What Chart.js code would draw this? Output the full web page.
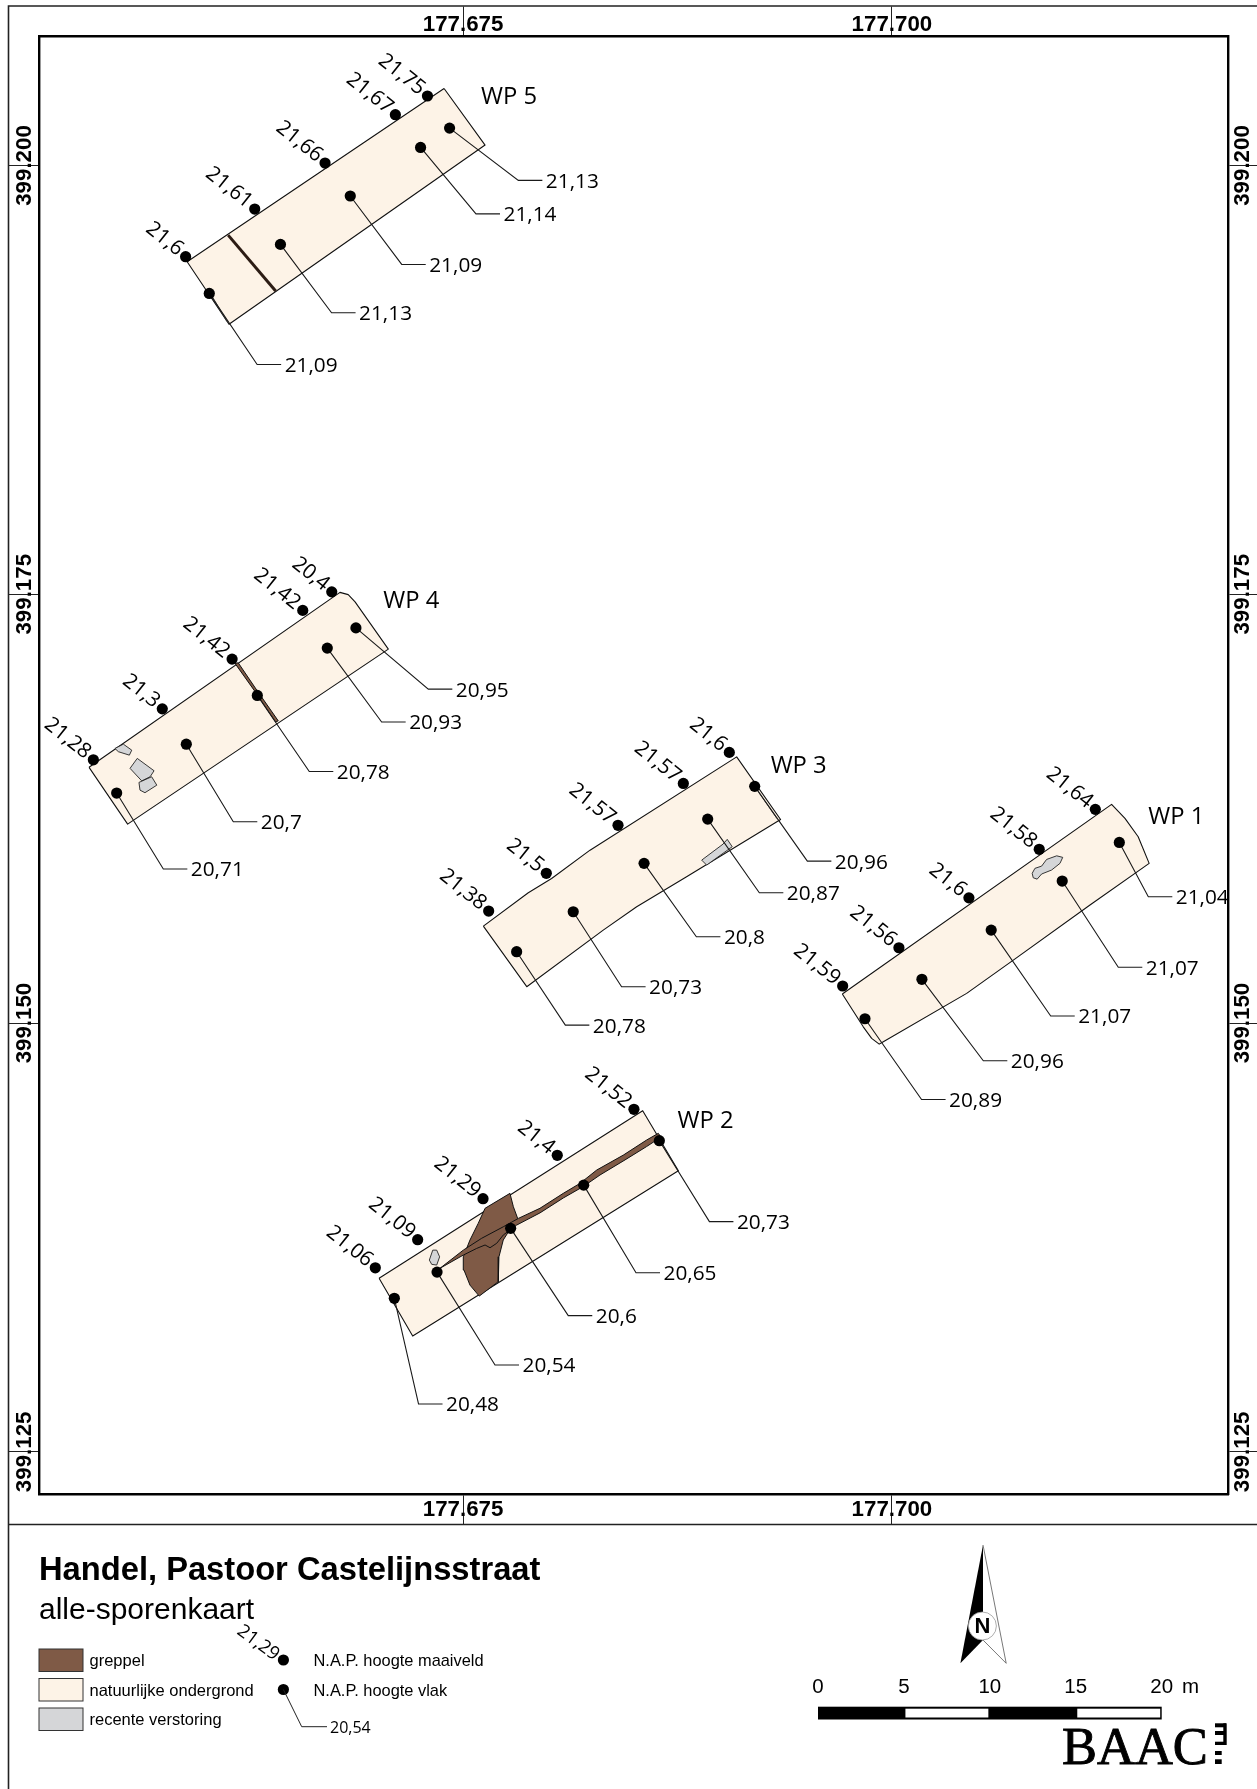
<!DOCTYPE html>
<html><head><meta charset="utf-8">
<style>html,body{margin:0;padding:0;background:#fff}#w{width:1257px;height:1789px;position:relative}canvas{display:block}</style>
<script src="https://cdn.jsdelivr.net/npm/chart.js@4"></script>
</head><body><div id="w"><canvas id="c" width="1257" height="1789"></canvas></div>
<script>
// Map ticks (RD coordinates, metres)
const xTickValues=[177675,177700];
const xTickLabels=["177.675","177.700"];
const yTickValues=[399125,399150,399175,399200];
const yTickLabels=["399.125","399.150","399.175","399.200"];
const xRange=[177650.26,177719.62];
const yRange=[399122.53,399207.52];

// Ground level points (N.A.P. hoogte maaiveld)
const maaiveldEast=[177658.82,177662.85,177666.95,177671.05,177672.92, 177653.44,177657.46,177661.53,177665.65,177667.34, 177676.49,177679.85,177684.03,177687.84,177690.52, 177697.13,177700.41,177704.49,177708.59,177711.86, 177669.88,177672.35,177676.16,177680.49,177684.96];
const maaiveldNorth=[399194.68,399197.46,399200.14,399202.96,399204.05, 399165.35,399168.32,399171.22,399174.06,399175.14, 399156.53,399158.73,399161.53,399163.97,399165.78, 399152.16,399154.39,399157.30,399160.13,399162.46, 399135.73,399137.37,399139.76,399142.29,399144.97];
const maaiveldValues=["21,6","21,61","21,66","21,67","21,75", "21,28","21,3","21,42","21,42","20,4", "21,38","21,5","21,57","21,57","21,6", "21,59","21,56","21,6","21,58","21,64", "21,06","21,09","21,29","21,4","21,52"];

// Trench-level points (N.A.P. hoogte vlak)
const vlakEast=[177660.20,177664.35,177668.42,177672.52,177674.21, 177654.80,177658.86,177663.00,177667.08,177668.75, 177678.12,177681.42,177685.55,177689.26,177692.00, 177698.43,177701.75,177705.79,177709.93,177713.26, 177670.99,177673.48,177677.77,177682.03,177686.44];
const vlakNorth=[399192.54,399195.40,399198.22,399201.05,399202.18, 399163.41,399166.26,399169.10,399171.86,399173.04, 399154.16,399156.49,399159.31,399161.89,399163.80, 399150.25,399152.55,399155.42,399158.28,399160.53, 399133.95,399135.48,399138.03,399140.55,399143.14];
const vlakValues=["21,09","21,13","21,09","21,14","21,13", "20,71","20,7","20,78","20,93","20,95", "20,78","20,73","20,8","20,87","20,96", "20,89","20,96","21,07","21,07","21,04", "20,48","20,54","20,6","20,65","20,73"];
const elbowEast=[177662.99,177667.33,177671.42,177675.75,177678.22, 177657.52,177661.60,177666.03,177670.25,177672.97, 177680.96,177684.24,177688.60,177692.27,177695.07, 177701.73,177705.33,177709.26,177713.20,177714.95, 177672.40,177676.86,177681.13,177685.08,177689.36];
const elbowNorth=[399188.40,399191.41,399194.23,399197.18,399199.13, 399158.98,399161.74,399164.67,399167.55,399169.47, 399149.88,399152.12,399155.03,399157.60,399159.44, 399145.54,399147.80,399150.41,399153.25,399157.36, 399127.79,399130.06,399132.94,399135.44,399138.42];

// Trenches (werkputten)
const wpNames=["WP 5","WP 4","WP 3","WP 1","WP 2"];
const wpEast=[177676.04,177670.35,177692.93,177714.95,177687.50];
const wpNorth=[399204.05,399174.66,399165.04,399162.08,399144.34];
const wp5Outline=[[177673.89,399204.49],[177676.28,399201.19],[177661.35,399190.74],[177658.91,399194.39]];
const wp4Outline=[[177653.19,399164.91],[177667.82,399175.11],[177668.30,399174.98],[177668.70,399174.56],[177670.64,399171.80],[177655.44,399161.60]];
const wp3Outline=[[177676.18,399155.65],[177678.80,399157.60],[177680.16,399158.43],[177682.40,399160.08],[177690.95,399165.52],[177693.51,399161.87],[177688.03,399158.53],[177685.12,399156.78],[177683.17,399155.42],[177678.71,399152.12]];
const wp1Outline=[[177697.11,399151.69],[177712.81,399162.75],[177713.59,399161.93],[177714.36,399160.86],[177715.00,399159.31],[177711.55,399156.88],[177707.08,399153.67],[177704.36,399151.73],[177699.50,399148.91],[177699.26,399148.77],[177698.82,399149.11],[177698.33,399149.78]];
const wp2Outline=[[177670.10,399135.12],[177685.47,399144.89],[177687.55,399141.39],[177672.06,399131.75]];

// Ditches (greppel)
const greppelWp5=[[177661.30,399195.94],[177664.07,399192.68]];
const greppelWp4=[[177661.70,399170.97],[177661.89,399171.00],[177662.97,399169.41],[177664.22,399167.62],[177664.07,399167.55],[177662.81,399169.41]];
const greppelWp2Wide=[[177676.28,399139.20],[177677.73,399140.07],[177677.93,399139.29],[177678.18,399138.61],[177677.77,399138.03],[177677.34,399137.35],[177677.09,399136.37],[177677.05,399134.92],[177675.94,399134.08],[177675.40,399134.72],[177675.05,399135.60],[177675.01,399136.37],[177675.40,399137.35],[177675.88,399138.32]];
const greppelWp2Long=[[177673.65,399135.70],[177675.01,399136.76],[177676.08,399137.45],[177677.34,399138.12],[177678.22,399138.61],[177679.48,399139.20],[177680.84,399140.07],[177681.81,399140.65],[177682.79,399141.43],[177684.34,399142.30],[177685.70,399143.18],[177686.38,399143.57],[177686.54,399143.35],[177685.70,399142.80],[177684.44,399142.02],[177682.98,399141.14],[177682.01,399140.47],[177680.84,399139.80],[177679.48,399138.93],[177678.12,399138.22],[177677.34,399137.64],[177676.96,399137.16],[177676.57,399136.90],[177676.28,399137.06],[177675.79,399136.86],[177675.01,399136.47]];

// Recent disturbance (recente verstoring)
const verstoringWp4a=[[177654.70,399166.01],[177655.19,399166.26],[177655.68,399165.91],[177655.54,399165.62],[177654.90,399165.82]];
const verstoringWp4b=[[177655.58,399164.85],[177656.00,399165.43],[177656.98,399164.71],[177656.75,399164.36],[177656.26,399164.12]];
const verstoringWp4c=[[177656.10,399164.03],[177656.84,399164.36],[177657.14,399163.87],[177656.45,399163.43],[177656.16,399163.58]];
const verstoringWp3=[[177688.91,399159.50],[177690.15,399160.43],[177690.40,399160.71],[177690.69,399160.28],[177689.20,399159.21]];
const verstoringWp1=[[177708.18,399158.73],[177708.34,399159.02],[177708.73,399159.15],[177709.02,399159.54],[177709.61,399159.75],[177709.96,399159.66],[177709.80,399159.31],[177709.31,399158.92],[177708.73,399158.69],[177708.47,399158.39],[177708.24,399158.47]];
const verstoringWp2=[[177673.03,399136.18],[177673.23,399136.76],[177673.46,399136.76],[177673.63,399136.37],[177673.46,399135.89],[177673.17,399135.93]];
const edgeStrips=[[[177660.33,399192.44],[177661.23,399190.90]],[[177692.21,399163.50],[177693.30,399161.92]]];

const legendLabels=["greppel","natuurlijke ondergrond","recente verstoring"];
const scaleLabels=["0","5","10","15","20"];

const BEIGE='#fdf3e7',BROWN='#7f5a46',GREY='#d5d6d8',INK='#111';
const ARIAL='"Liberation Sans",Arial,sans-serif',LABEL='"Open Sans",sans-serif';
const STUB_M=1.4;

const pts=a=>a.map(p=>({x:p[0],y:p[1]}));
function shape(a,fill,line,w,label){const d=pts(a);d.push(d[0]);
  return {type:'scatter',label,data:d,showLine:true,fill:'shape',backgroundColor:fill,borderColor:line,borderWidth:w,pointRadius:0,tension:0,borderJoinStyle:'round'};}
function lineSet(segs,color,w,label){const d=[];segs.forEach(s=>{s.forEach(p=>d.push({x:p[0],y:p[1]}));d.push({x:NaN,y:NaN});});
  return {type:'scatter',label,data:d,showLine:true,fill:false,borderColor:color,borderWidth:w,pointRadius:0,spanGaps:false};}
const leaders=vlakEast.map((e,i)=>[[e,vlakNorth[i]],[elbowEast[i],elbowNorth[i]],[elbowEast[i]+STUB_M,elbowNorth[i]]]);
const dots=(E,N,label)=>({type:'scatter',label,data:E.map((e,i)=>({x:e,y:N[i]})),showLine:false,pointRadius:5.6,pointHoverRadius:5.6,pointBackgroundColor:'#000',pointBorderWidth:0});

const datasets=[
  dots(maaiveldEast,maaiveldNorth,'N.A.P. hoogte maaiveld'),
  dots(vlakEast,vlakNorth,'N.A.P. hoogte vlak'),
  lineSet(leaders,'#1a1a1a',1.1,'leaders'),
  lineSet(edgeStrips,'#333',0.8,'edges'),
  shape(verstoringWp4a,GREY,'#222',0.9,'recente verstoring'),
  shape(verstoringWp4b,GREY,'#222',0.9,'recente verstoring'),
  shape(verstoringWp4c,GREY,'#222',0.9,'recente verstoring'),
  shape(verstoringWp3,GREY,'#222',0.9,'recente verstoring'),
  shape(verstoringWp1,GREY,'#222',0.9,'recente verstoring'),
  shape(verstoringWp2,GREY,'#222',0.9,'recente verstoring'),
  lineSet([greppelWp5],'#2c1c14',3,'greppel'),
  shape(greppelWp4,BROWN,'#111',1,'greppel'),
  shape(greppelWp2Long,BROWN,'#111',1,'greppel'),
  shape(greppelWp2Wide,BROWN,'#111',1,'greppel'),
  shape(wp5Outline,BEIGE,INK,1.1,'natuurlijke ondergrond'),
  shape(wp4Outline,BEIGE,INK,1.1,'natuurlijke ondergrond'),
  shape(wp3Outline,BEIGE,INK,1.1,'natuurlijke ondergrond'),
  shape(wp1Outline,BEIGE,INK,1.1,'natuurlijke ondergrond'),
  shape(wp2Outline,BEIGE,INK,1.1,'natuurlijke ondergrond')
];

const mapLabels={id:'mapLabels',afterDatasetsDraw(ch){
  const c=ch.ctx,X=ch.scales.x,Y=ch.scales.y;
  c.save();c.fillStyle='#000';
  c.font='20.8px '+LABEL;c.textBaseline='middle';c.textAlign='left';
  vlakValues.forEach((t,i)=>c.fillText(t,X.getPixelForValue(elbowEast[i]+STUB_M)+3.5,Y.getPixelForValue(elbowNorth[i])+1.5));
  maaiveldValues.forEach((t,i)=>{c.save();c.translate(X.getPixelForValue(maaiveldEast[i]),Y.getPixelForValue(maaiveldNorth[i]));c.rotate(38.5*Math.PI/180);c.textAlign='right';c.fillText(t,-7,-0.8);c.restore();});
  c.font='23.8px '+LABEL;c.textAlign='left';
  wpNames.forEach((t,i)=>c.fillText(t,X.getPixelForValue(wpEast[i]),Y.getPixelForValue(wpNorth[i])+1));
  c.restore();
}};

const furniture={id:'furniture',afterDraw(ch){
  const c=ch.ctx;c.save();
  // outer frame
  c.strokeStyle='#222';c.lineWidth=1.6;
  c.beginPath();c.moveTo(8.5,1789);c.lineTo(8.5,6);c.lineTo(1257,6);c.moveTo(8.5,1524.5);c.lineTo(1257,1524.5);c.stroke();
  // titles
  c.fillStyle='#000';c.textBaseline='alphabetic';c.textAlign='left';
  c.font='bold 32.7px '+ARIAL;c.fillText('Handel, Pastoor Castelijnsstraat',39,1579.5);
  c.font='30px '+ARIAL;c.fillText('alle-sporenkaart',39,1619);
  // legend swatches
  [[BROWN,1649],[BEIGE,1678.5],[GREY,1708]].forEach((s,i)=>{c.fillStyle=s[0];c.fillRect(39,s[1],44,22.5);c.strokeStyle='#333';c.lineWidth=1;c.strokeRect(39,s[1],44,22.5);
    c.fillStyle='#000';c.font='16.5px '+ARIAL;c.textBaseline='middle';c.fillText(legendLabels[i],89.5,s[1]+12.5);});
  c.font='16.4px '+ARIAL;
  c.fillText('N.A.P. hoogte maaiveld',313.5,1661.5);c.fillText('N.A.P. hoogte vlak',313.5,1691.5);
  // legend symbols
  c.beginPath();c.arc(283.4,1660,5.6,0,7);c.fill();c.beginPath();c.arc(283.4,1689.5,5.6,0,7);c.fill();
  c.strokeStyle='#222';c.lineWidth=1;c.beginPath();c.moveTo(283.4,1689.5);c.lineTo(301.7,1726.7);c.lineTo(327,1726.7);c.stroke();
  c.font='16px '+LABEL;c.fillText('20,54',330,1728);
  c.save();c.translate(283.4,1660);c.rotate(36*Math.PI/180);c.textAlign='right';c.font='18.5px '+LABEL;c.fillText('21,29',-7,1);c.restore();
  // north arrow
  c.fillStyle='#000';c.beginPath();c.moveTo(983,1545);c.lineTo(960.4,1663.3);c.lineTo(983,1640);c.closePath();c.fill();
  c.strokeStyle='#555';c.lineWidth=0.8;c.beginPath();c.moveTo(983,1545);c.lineTo(1006.2,1663.3);c.lineTo(983,1640);c.stroke();
  c.fillStyle='#fff';c.beginPath();c.arc(982.4,1626,14,0,7);c.fill();c.strokeStyle='#999';c.stroke();
  c.fillStyle='#000';c.font='bold 22px '+ARIAL;c.textAlign='center';c.textBaseline='middle';c.fillText('N',982.4,1627);
  // scale bar
  const sx=818,su=(1161.7-818)/4;
  c.fillStyle='#000';c.fillRect(sx,1706.7,su*4,12.8);
  c.fillStyle='#fff';c.fillRect(sx+su+1.5,1708.7,su-3,8.8);c.fillRect(sx+3*su+1.5,1708.7,su-3,8.8);
  c.fillStyle='#000';c.font='20.5px '+ARIAL;c.textBaseline='middle';
  scaleLabels.forEach((t,i)=>c.fillText(t,sx+su*i,1687));
  c.textAlign='left';c.fillText('m',1182,1687);
  // logo
  c.textBaseline='alphabetic';c.textAlign='left';c.font='52.5px "Liberation Serif",serif';c.strokeStyle='#000';c.lineWidth=0.9;c.fillText('BAAC',1062,1764);c.strokeText('BAAC',1062,1764);
  c.fillRect(1223.3,1723.3,3.4,21.7);c.fillRect(1215,1723.3,11,4);c.fillRect(1215,1731,11,4);c.fillRect(1215,1741.7,11,3.3);c.fillRect(1215,1751,6.7,4);c.fillRect(1215,1759.3,6.7,4.7);
  c.restore();
}};

function tickAxis(position,id,values,labels,pad,fit){
  return {type:'linear',position,
    min:(id[0]==='x'?xRange:yRange)[0],max:(id[0]==='x'?xRange:yRange)[1],
    border:{display:true,color:'#000',width:2.4},
    grid:{display:true,drawOnChartArea:false,drawTicks:true,tickLength:30,tickWidth:1,tickColor:'#222',color:'#222'},
    afterBuildTicks(s){s.ticks=values.map(v=>({value:v}));},
    afterFit:fit,
    ticks:{autoSkip:false,padding:pad,color:'#000',crossAlign:'center',minRotation:id[0]==='y'?90:0,maxRotation:id[0]==='y'?90:0,font:{family:ARIAL,size:22.3,weight:'bold'},callback:v=>labels[values.indexOf(v)]}};
}
new Chart(document.getElementById('c'),{
  type:'scatter',
  data:{datasets},
  plugins:[mapLabels,furniture,{id:'bg',beforeDraw(ch){ch.ctx.fillStyle='#fff';ch.ctx.fillRect(0,0,1257,1789);}}],
  options:{responsive:false,animation:false,devicePixelRatio:1,
    layout:{padding:{left:0,right:0,top:0,bottom:265}},
    plugins:{legend:{display:false},tooltip:{enabled:false},title:{display:false}},
    events:[],
    scales:{
      x:tickAxis('top','x',xTickValues,xTickLabels,-18,s=>{s.height=36.5;}),
      x2:tickAxis('bottom','x2',xTickValues,xTickLabels,-14,s=>{s.height=29.8;}),
      y:tickAxis('left','y',yTickValues,yTickLabels,-56.7,s=>{s.width=38.8;}),
      y2:tickAxis('right','y2',yTickValues,yTickLabels,-55.9,s=>{s.width=28.6;})
    }
  }
});
</script></body></html>
